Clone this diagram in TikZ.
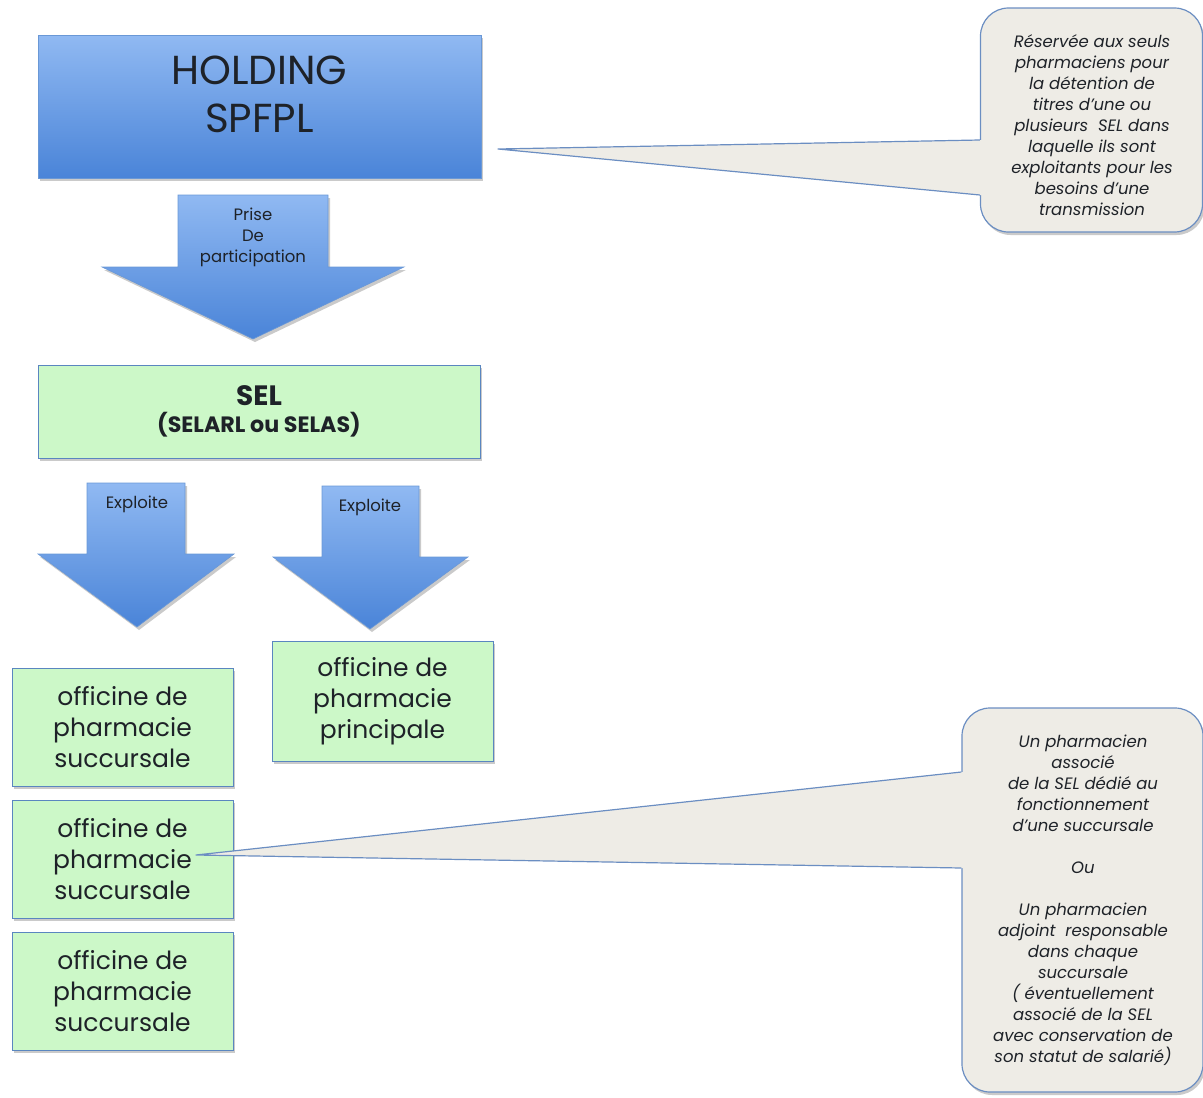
\documentclass[tikz,border=0pt]{standalone}
\usepackage{fontspec}
\setmainfont{Poppins}
\usetikzlibrary{shadows,calc}
\definecolor{bluetop}{HTML}{90B9F2}
\definecolor{bluebot}{HTML}{4A84D8}
\definecolor{blueedge}{HTML}{6A98D6}
\definecolor{greenfill}{HTML}{CCF8C8}
\definecolor{greenedge}{HTML}{5A86C0}
\definecolor{callfill}{HTML}{EEECE6}
\definecolor{calledge}{HTML}{6B8EC2}
\definecolor{txt}{HTML}{1E2228}
\begin{document}
\begin{tikzpicture}[x=1pt,y=-1pt,
  shd/.style={drop shadow={shadow xshift=2pt,shadow yshift=-3pt,opacity=0.35,fill=black!60}},
  bluebox/.style={draw=blueedge,line width=0.8pt,top color=bluetop,bottom color=bluebot,shd,inner sep=0pt},
  greenbox/.style={draw=greenedge,line width=0.8pt,fill=greenfill,shd,inner sep=0pt,align=center,text=txt,font=\fontsize{25}{31}\selectfont},
  arrowshape/.style={draw=blueedge,line width=0.6pt,top color=bluetop,bottom color=bluebot,shd},
  arrowtext/.style={align=center,text=txt,font=\fontsize{16.5}{21}\selectfont},
  callout/.style={draw=calledge,line width=1.2pt,fill=callfill,rounded corners=28pt,shd,inner sep=0pt},
  calltext/.style={align=center,text=txt,inner sep=0pt,font=\itshape\fontsize{16.5}{21}\selectfont},
]
\useasboundingbox (0,0) rectangle (1203,1098);

% HOLDING box
\node[bluebox,minimum width=443pt,minimum height=143pt] (hold) at (259.5,106.5) {};
\node[align=center,text=txt,font=\fontsize{40.5}{48}\selectfont] (holdt) at (259.5,94) {HOLDING\\SPFPL};

% Arrow 1
\shade[arrowshape] (178,195) -- (328,195) -- (328,267) -- (404,267) -- (253,339) -- (102,267) -- (178,267) -- cycle;
\node[arrowtext] (a1t) at (253,237) {Prise\\De\\participation};

% SEL
\node[greenbox,minimum width=442pt,minimum height=93pt,font=\bfseries] (sel) at (259,411.5)
  {{\fontsize{28}{32}\selectfont SEL}\\[6pt]{\fontsize{22.2}{26}\selectfont (SELARL ou SELAS)}};

% Arrows 2 and 3
\shade[arrowshape] (87,483) -- (185,483) -- (185,554) -- (234,554) -- (137,627) -- (38,554) -- (87,554) -- cycle;
\node[arrowtext] (a2t) at (137,504) {Exploite};
\shade[arrowshape] (322,486) -- (419,486) -- (419,557) -- (468,557) -- (370,629) -- (273,557) -- (322,557) -- cycle;
\node[arrowtext] (a3t) at (370,507) {Exploite};

% Officines
\node[greenbox,minimum width=221pt,minimum height=120pt] (princ) at (382.5,701) {officine de\\pharmacie\\principale};
\node[greenbox,minimum width=221pt,minimum height=118pt] (s1) at (122.5,727) {officine de\\pharmacie\\succursale};
\node[greenbox,minimum width=221pt,minimum height=118pt] (s2) at (122.5,859) {officine de\\pharmacie\\succursale};
\node[greenbox,minimum width=221pt,minimum height=118pt] (s3) at (122.5,991) {officine de\\pharmacie\\succursale};

% Callout 1
\node[callout,minimum width=222pt,minimum height=224pt] (c1) at (1091.5,120) {};
\coordinate (p1) at (498,149);
\coordinate (j1a) at (c1.west |- 0,140);
\coordinate (j1b) at (c1.west |- 0,195);
\fill[callfill] (p1) -- (j1a) -- ([xshift=3pt]j1a) -- ([xshift=3pt]j1b) -- (j1b) -- cycle;
\draw[calledge,line width=1.2pt,line join=round] (j1a) -- (p1) -- (j1b);
\node[calltext] (c1t) at (1092,125)
  {Réservée aux seuls\\pharmaciens pour\\la détention de\\titres d’une ou\\plusieurs \ SEL dans\\laquelle ils sont\\exploitants pour les\\besoins d’une\\transmission};

% Callout 2
\node[callout,minimum width=241pt,minimum height=384pt] (c2) at (1082.5,900) {};
\coordinate (p2) at (196,855);
\coordinate (j2a) at (c2.west |- 0,772);
\coordinate (j2b) at (c2.west |- 0,868);
\fill[callfill] (p2) -- (j2a) -- ([xshift=3pt]j2a) -- ([xshift=3pt]j2b) -- (j2b) -- cycle;
\draw[calledge,line width=1.2pt,line join=round] (j2a) -- (p2) -- (j2b);
\node[calltext] (c2t) at (1083,900)
  {Un pharmacien\\associé\\de la SEL dédié au\\fonctionnement\\d’une succursale\\[21pt]Ou\\[21pt]Un pharmacien\\adjoint \ responsable\\dans chaque\\succursale\\( éventuellement\\associé de la SEL\\avec conservation de\\son statut de salarié)};
\end{tikzpicture}
\end{document}
